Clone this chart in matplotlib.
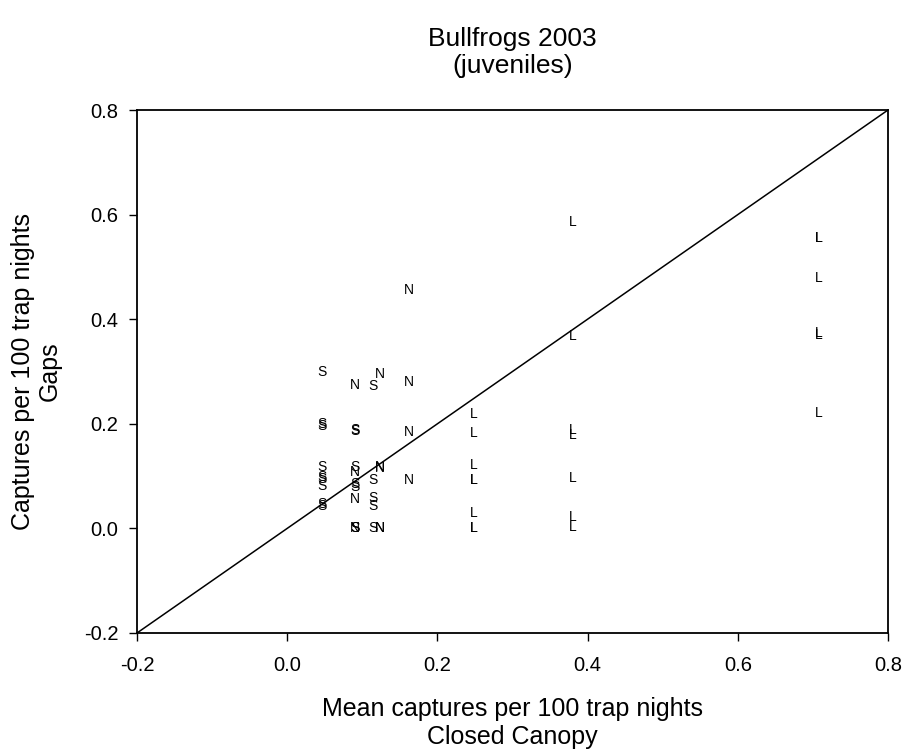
import matplotlib
matplotlib.use("Agg")
import matplotlib.pyplot as plt

plt.rcParams['font.family'] = ['Liberation Sans', 'DejaVu Sans']
plt.rcParams['axes.unicode_minus'] = False

# ---- data ----
s_x = [0.046, 0.046, 0.046, 0.046, 0.046, 0.046, 0.046, 0.046, 0.046,
       0.090, 0.090, 0.090, 0.090, 0.090, 0.090, 0.090,
       0.114, 0.114, 0.114, 0.114, 0.114]
s_y = [0.300, 0.200, 0.195, 0.118, 0.098, 0.095, 0.082, 0.047, 0.043,
       0.188, 0.186, 0.118, 0.085, 0.080, 0.000, 0.000,
       0.272, 0.092, 0.058, 0.042, 0.000]

n_x = [0.090, 0.090, 0.090, 0.090,
       0.124, 0.124, 0.124, 0.124, 0.124,
       0.162, 0.162, 0.162, 0.162]
n_y = [0.274, 0.108, 0.057, 0.000,
       0.295, 0.118, 0.116, 0.000, 0.000,
       0.456, 0.280, 0.185, 0.093]

l_x = [0.249, 0.249, 0.249, 0.249, 0.249, 0.249, 0.249, 0.249,
       0.380, 0.380, 0.380, 0.380, 0.380, 0.380, 0.380,
       0.708, 0.708, 0.708, 0.708, 0.708, 0.708]
l_y = [0.219, 0.183, 0.121, 0.093, 0.093, 0.029, 0.000, 0.000,
       0.586, 0.367, 0.188, 0.179, 0.096, 0.022, 0.003,
       0.555, 0.555, 0.478, 0.373, 0.370, 0.220]

groups = [("S", s_x, s_y), ("N", n_x, n_y), ("L", l_x, l_y)]

line_x = [-0.2, 0.8]
line_y = [-0.2, 0.8]

ticks = [-0.2, 0.0, 0.2, 0.4, 0.6, 0.8]
tick_labels = ["-0.2", "0.0", "0.2", "0.4", "0.6", "0.8"]

title = "Bullfrogs 2003\n(juveniles)"
xlabel = "Mean captures per 100 trap nights\nClosed Canopy"
ylabel = "Captures per 100 trap nights\nGaps"

# ---- figure ----
fig = plt.figure(figsize=(9.08, 7.52), dpi=100)
W, H = 908, 752
ax = fig.add_axes([137 / W, 1 - 633 / H, 751 / W, 523 / H])

ax.plot(line_x, line_y, color="black", lw=1.1, solid_capstyle="butt")

for letter, xs, ys in groups:
    for x, y in zip(xs, ys):
        ax.text(x, y, letter, ha="center", va="center", fontsize=10,
                color="black")

ax.set_xlim(-0.2, 0.8)
ax.set_ylim(-0.2, 0.8)
ax.set_xticks(ticks)
ax.set_xticklabels(tick_labels)
ax.set_yticks(ticks)
ax.set_yticklabels(tick_labels)
ax.tick_params(direction="out", length=5.5, width=1.0, labelsize=14.5,
               top=False, right=False)
ax.tick_params(axis="x", pad=11)
ax.tick_params(axis="y", pad=8)
for sp in ax.spines.values():
    sp.set_linewidth(1.3)

ax.set_xlabel(xlabel, fontsize=18, labelpad=16, linespacing=1.2)
ax.set_ylabel(ylabel, fontsize=18, labelpad=16, linespacing=1.15)

ax.set_title(title, fontsize=19, pad=27, linespacing=1.15)

fig.savefig("out.png", dpi=100)
